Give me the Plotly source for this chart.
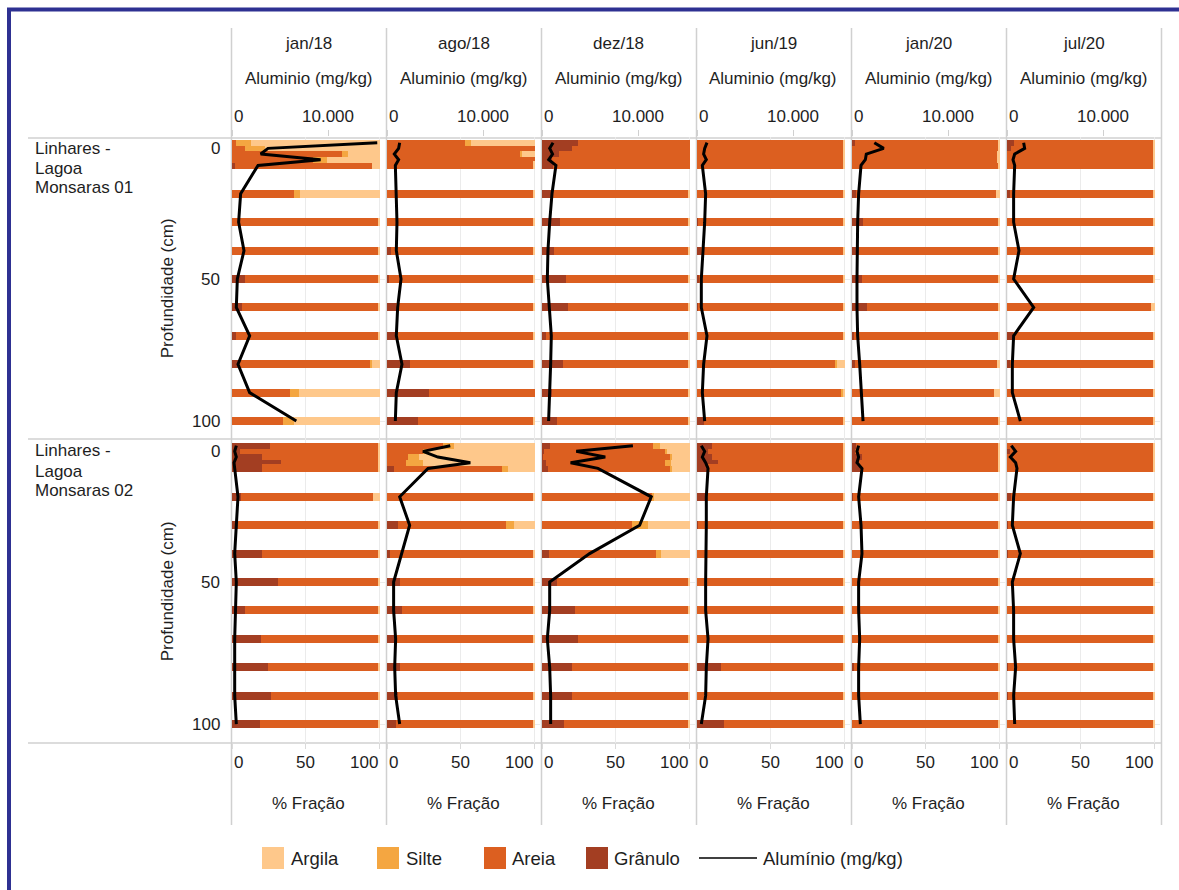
import plotly.graph_objects as go

W, H = 1179, 890

depths = [2, 4, 6, 8, 10, 20, 30, 40, 50, 60, 70, 80, 90, 100]
campaigns = ["jan/18", "ago/18", "dez/18", "jun/19", "jan/20", "jul/20"]
sites = [["Linhares -", "Lagoa", "Monsaras 01"], ["Linhares -", "Lagoa", "Monsaras 02"]]
pct_ticks = [0, 50, 100]
al_ticks = [0, 10000]
al_tick_text = ["0", "10.000"]
depth_ticks = [0, 50, 100]

# ---- Monsaras 01 : one list per campaign, one value per depth ----
granulo_01 = [
    [0, 0, 0, 0, 2.3, 0, 0, 0, 8.6, 7, 2.5, 4, 0, 0],
    [0, 0, 0, 0, 0, 0, 0, 3, 1.4, 6.3, 5.7, 15.8, 28.7, 21],
    [24, 20, 11.3, 7, 7.5, 7.5, 12, 8, 16, 17.5, 2.5, 14, 6.8, 10.4],
    [0, 0, 0, 0, 0, 0, 1, 3, 1.5, 1, 0, 0, 0, 5],
    [2.3, 0, 0, 0, 0, 3, 7.5, 5, 6.8, 9.8, 1.5, 2.3, 0, 0],
    [4.5, 3, 0, 0, 0, 2.3, 0, 0, 0, 0, 4, 2.3, 0, 0],
]
areia_01 = [
    [3, 8.6, 74, 54.4, 92.5, 42, 99, 99, 90.4, 92, 96.5, 89.6, 39.2, 34.7],
    [52.5, 100, 90, 100, 99, 99, 99, 96, 97.6, 92.7, 93.3, 83.2, 71.3, 78],
    [76, 80, 88.7, 93, 92.5, 91.5, 87, 91, 83, 81.5, 96.5, 85, 92.2, 88.6],
    [99, 99, 99, 99, 99, 99, 98, 96, 97.5, 98, 99, 93, 97.7, 94],
    [96.7, 99, 98, 98, 99, 94, 91.5, 94, 92.2, 89.2, 97.5, 95.9, 95.7, 99],
    [94.5, 96, 99, 99, 99, 96.7, 99, 99, 99, 97, 95, 96.2, 99, 99],
]
silte_01 = [
    [10, 13.6, 4.5, 9.8, 0, 4, 0, 0, 0, 0, 0, 1, 6.1, 7.3],
    [4.5, 0, 1, 0, 0, 0, 0, 0, 0, 0, 0, 0, 0, 0],
    [0, 0, 0, 0, 0, 0, 0, 0, 0, 0, 0, 0, 0, 0],
    [0, 0, 0, 0, 0, 0, 0, 0, 0, 0, 0, 1.8, 1, 0],
    [0, 0, 0, 0, 0, 0, 0, 0, 0, 0, 0, 0, 0, 0],
    [0, 0, 0, 0, 0, 0, 0, 0, 0, 0, 0, 0, 0, 0],
]
argila_01 = [
    [87, 77.8, 21.5, 35.8, 5.2, 54, 1, 1, 1, 1, 1, 5.4, 54.7, 58],
    [43, 0, 9, 0, 1, 1, 1, 1, 1, 1, 1, 1, 0, 1],
    [0, 0, 0, 0, 0, 1, 1, 1, 1, 1, 1, 1, 1, 1],
    [1, 1, 1, 1, 1, 1, 1, 1, 1, 1, 1, 5.2, 1.3, 1],
    [1, 1, 2, 2, 1, 3, 1, 1, 1, 1, 1, 1.8, 4.3, 1],
    [1, 1, 1, 1, 1, 1, 1, 1, 1, 3, 1, 1.5, 1, 1],
]
aluminio_01 = [
    [15130, 3750, 2990, 9230, 2710, 900, 690, 1250, 555, 450, 1840, 625, 1840, 6700],
    [1320, 1210, 760, 1210, 870, 970, 1040, 970, 1460, 1110, 970, 1560, 970, 870],
    [1150, 800, 1100, 700, 1450, 1040, 800, 620, 555, 800, 970, 900, 800, 690],
    [1040, 800, 690, 970, 555, 900, 800, 625, 450, 450, 1040, 690, 555, 800],
    [2325, 3300, 1490, 1390, 940, 690, 590, 520, 520, 520, 590, 800, 940, 1150],
    [1735, 1840, 800, 625, 800, 690, 690, 1250, 690, 2780, 690, 555, 555, 1390],
]

# ---- Monsaras 02 ----
granulo_02 = [
    [25.6, 5.2, 20, 33, 20, 6, 4, 20, 31, 9, 19.5, 24, 26.3, 18.8],
    [0, 0, 0, 0, 5, 0, 7.5, 2, 9, 10, 6.3, 9, 7.5, 6.3],
    [5.2, 1.4, 1, 3, 4, 0, 0, 4.5, 9.8, 22.2, 24, 20, 20, 14.7],
    [10.4, 7.5, 9.8, 14.3, 7.5, 5.2, 0.7, 0, 0, 0, 0, 16.5, 0, 18],
    [2.7, 2, 6.8, 4.5, 5.2, 1, 0, 0, 0, 0, 0, 1.1, 0, 0],
    [0, 2.3, 0, 0, 0, 3, 1, 1, 0, 0, 0, 1, 1, 0],
]
areia_02 = [
    [73.4, 93.8, 79, 66, 79, 89, 95, 79, 68, 90, 79.5, 75, 72.7, 80.2],
    [38, 24, 14, 13, 73, 99, 73, 97, 90, 89, 92.7, 90, 91.5, 92.7],
    [69.6, 81.6, 86, 80, 82.8, 74.4, 60.8, 72.6, 89.2, 76.8, 75, 79, 79, 84.3],
    [88.6, 91.5, 89.2, 84.7, 91.5, 93.8, 98.3, 99, 99, 99, 99, 82.5, 99, 81],
    [96.3, 97, 92.2, 94.5, 93.8, 98, 99, 99, 99, 99, 99, 97.9, 99, 99],
    [99, 96.7, 99, 99, 99, 96, 98, 98, 99, 99, 99, 98, 98, 99],
]
silte_02 = [
    [0, 0, 0, 0, 0, 0, 0, 0, 0, 0, 0, 0, 0, 0],
    [7, 3, 7.5, 11.5, 4, 0, 5.5, 0, 0, 0, 0, 0, 0, 0],
    [5.2, 1.6, 1, 3.9, 1.2, 1.1, 10.9, 3.6, 0, 0, 0, 0, 0, 0],
    [0, 0, 0, 0, 0, 0, 0, 0, 0, 0, 0, 0, 0, 0],
    [0, 0, 0, 0, 0, 0, 0, 0, 0, 0, 0, 0, 0, 0],
    [0, 0, 0, 0, 0, 0, 0, 0, 0, 0, 0, 0, 0, 0],
]
argila_02 = [
    [1, 1, 1, 1, 1, 5, 1, 1, 1, 1, 1, 1, 1, 1],
    [55, 73, 78.5, 75.5, 18, 1, 14, 1, 1, 1, 1, 1, 1, 1],
    [20, 15.4, 12, 13.1, 12, 24.5, 28.3, 19.3, 1, 1, 1, 1, 1, 1],
    [1, 1, 1, 1, 1, 1, 1, 1, 1, 1, 1, 1, 1, 1],
    [1, 1, 1, 1, 1, 1, 1, 1, 1, 1, 1, 1, 1, 1],
    [1, 1, 1, 1, 1, 1, 1, 1, 1, 1, 1, 1, 1, 1],
]
aluminio_02 = [
    [450, 280, 450, 210, 280, 625, 450, 280, 450, 350, 280, 280, 280, 450],
    [6590, 3750, 5300, 8680, 4270, 1320, 2360, 1490, 690, 690, 900, 800, 900, 1320],
    [9470, 3570, 6590, 2980, 5830, 11380, 10170, 4960, 800, 800, 555, 800, 900, 900],
    [450, 800, 555, 900, 1150, 970, 970, 900, 900, 900, 1150, 970, 900, 450],
    [690, 520, 690, 520, 1040, 690, 940, 1040, 690, 690, 800, 690, 690, 870],
    [450, 900, 350, 900, 1040, 690, 555, 1390, 555, 690, 690, 900, 690, 800],
]

site_data = [
    dict(granulo=granulo_01, areia=areia_01, silte=silte_01, argila=argila_01, al=aluminio_01),
    dict(granulo=granulo_02, areia=areia_02, silte=silte_02, argila=argila_02, al=aluminio_02),
]

# stacking order left -> right
fractions = [
    ("granulo", "Grânulo", "#a33e22"),
    ("areia", "Areia", "#dc5f20"),
    ("silte", "Silte", "#f4a641"),
    ("argila", "Argila", "#fec88b"),
]

FONT = "Liberation Sans, Arial, sans-serif"
TXT = "#1e1e1e"
GRID = "#ebebeb"
RULE = "#d0d0d0"

# the shallow samples sit 2 cm apart, so their bars are drawn thinner
bar_widths = [2.0 if d < 10 else 2.8 for d in depths]


def fx(p):
    return p / W


def fy(p):
    return 1 - p / H


col_left = [232 + 155 * c for c in range(6)]
pane_w = 153
row_top = [137, 440]
row_bottom = [439.5, 742.5]
PCT_RANGE = [0, 103.4]
AL_RANGE = [0, 15937]
DEPTH_RANGE = [106.5, 0]

fig = go.Figure()
layout = {}
annotations = []
shapes = []


def label(text, x, y, xref="paper", yref="paper", xanchor="center",
          yanchor="middle", size=17, **extra):
    d = dict(text=text, x=x, y=y, xref=xref, yref=yref, xanchor=xanchor,
             yanchor=yanchor, showarrow=False,
             font=dict(family=FONT, size=size, color=TXT))
    d.update(extra)
    annotations.append(d)


for r in range(2):
    data = site_data[r]
    for c in range(6):
        k = r * 6 + c
        xb = f"x{k + 1}"
        xa = f"x{k + 13}"
        ya = f"y{k + 1}"
        L = col_left[c]

        for key, name, color in fractions:
            fig.add_trace(go.Bar(
                x=data[key][c], y=depths, orientation="h", width=bar_widths,
                name=name, marker=dict(color=color, line=dict(width=0)),
                xaxis=xb, yaxis=ya, showlegend=False, hoverinfo="x+y+name",
            ))
        fig.add_trace(go.Scatter(
            x=data["al"][c], y=depths, mode="lines", name="Alumínio (mg/kg)",
            line=dict(color="black", width=3), xaxis=xa, yaxis=ya,
            showlegend=False,
        ))

        layout[f"xaxis{k + 1}"] = dict(
            domain=[fx(L), fx(L + pane_w)], anchor=ya, range=PCT_RANGE,
            tickvals=pct_ticks, showticklabels=False, showgrid=True,
            gridcolor=GRID, gridwidth=1, zeroline=False, showline=False,
            ticks="outside" if r == 1 else "", ticklen=5, tickcolor="#dadada",
            fixedrange=True,
        )
        layout[f"xaxis{k + 13}"] = dict(
            overlaying=xb, anchor=ya, side="top", range=AL_RANGE,
            tickvals=al_ticks, showticklabels=False, showgrid=False,
            zeroline=False, showline=False,
            ticks="outside" if r == 0 else "", ticklen=6, tickcolor="#d0d0d0",
            fixedrange=True,
        )
        layout[f"yaxis{k + 1}"] = dict(
            domain=[fy(row_bottom[r]), fy(row_top[r])], anchor=xb,
            range=DEPTH_RANGE, tickvals=depth_ticks, showticklabels=False,
            showgrid=True, gridcolor=GRID, gridwidth=1, zeroline=False,
            showline=False, fixedrange=True,
        )

        # depth labels, shared by the whole row -> placed once
        if c == 0:
            for v in depth_ticks:
                label(str(v), fx(222), v, yref=ya, xanchor="right",
                      yanchor="top" if v == 0 else "middle")

        # top aluminium tick labels (first row only)
        if r == 0:
            for v, t in zip(al_ticks, al_tick_text):
                label(t, v, fy(116), xref=xa,
                      xanchor="left" if v == 0 else "center")
        # bottom % tick labels (last row only)
        if r == 1:
            for v in pct_ticks:
                anchor = "left" if v == 0 else ("right" if v == 100 else "center")
                label(str(v), v, fy(762), xref=xb, xanchor=anchor)

    # site header (one line each, 20 px apart) and depth title
    for i, line in enumerate(sites[r]):
        label(line, fx(33), fy(row_top[r] + 11 + 20 * i), xanchor="left")
    label("Profundidade (cm)", fx(167), fy((row_top[r] + row_bottom[r]) / 2),
          textangle=-90)

# column headers / footers
for c in range(6):
    cx = fx(col_left[c] + 76.5)
    label(campaigns[c], cx, fy(44))
    label("Aluminio (mg/kg)", cx, fy(78))
    label("% Fração", cx, fy(803))

# table rules
for yy in [138, 439, 743]:
    shapes.append(dict(type="line", xref="paper", yref="paper",
                       x0=fx(28), x1=fx(1162), y0=fy(yy), y1=fy(yy),
                       line=dict(color=RULE, width=1.5), layer="below"))
for i in range(7):
    xx = 231.5 + 155 * i
    shapes.append(dict(type="line", xref="paper", yref="paper",
                       x0=fx(xx), x1=fx(xx), y0=fy(28), y1=fy(825),
                       line=dict(color=RULE, width=1.5), layer="below"))

# frame
shapes.append(dict(type="line", xref="paper", yref="paper",
                   x0=fx(7), x1=fx(1179), y0=fy(9.5), y1=fy(9.5),
                   line=dict(color="#2e3192", width=4)))
shapes.append(dict(type="line", xref="paper", yref="paper",
                   x0=fx(9), x1=fx(9), y0=fy(8), y1=fy(890),
                   line=dict(color="#2e3192", width=4)))

# legend
legend_items = [("Argila", "#fec88b", 262, 289), ("Silte", "#f4a641", 377, 404),
                ("Areia", "#dc5f20", 484, 510), ("Grânulo", "#a33e22", 586, 612)]
for name, color, sx, tx in legend_items:
    shapes.append(dict(type="rect", xref="paper", yref="paper",
                       x0=fx(sx), x1=fx(sx + 22), y0=fy(869), y1=fy(847),
                       fillcolor=color, line=dict(width=0)))
    label(name, fx(tx), fy(858), xanchor="left", size=18.5)
shapes.append(dict(type="line", xref="paper", yref="paper",
                   x0=fx(699), x1=fx(757), y0=fy(858), y1=fy(858),
                   line=dict(color="black", width=1.5)))
label("Alumínio (mg/kg)", fx(761), fy(858), xanchor="left", size=18.5)

fig.update_layout(
    width=W, height=H, autosize=False,
    margin=dict(l=0, r=0, t=0, b=0, pad=0),
    barmode="stack", bargap=0,
    paper_bgcolor="white", plot_bgcolor="rgba(0,0,0,0)",
    font=dict(family=FONT, size=17, color=TXT),
    showlegend=False,
    annotations=annotations, shapes=shapes,
    **layout,
)

fig.write_html("out.html")
